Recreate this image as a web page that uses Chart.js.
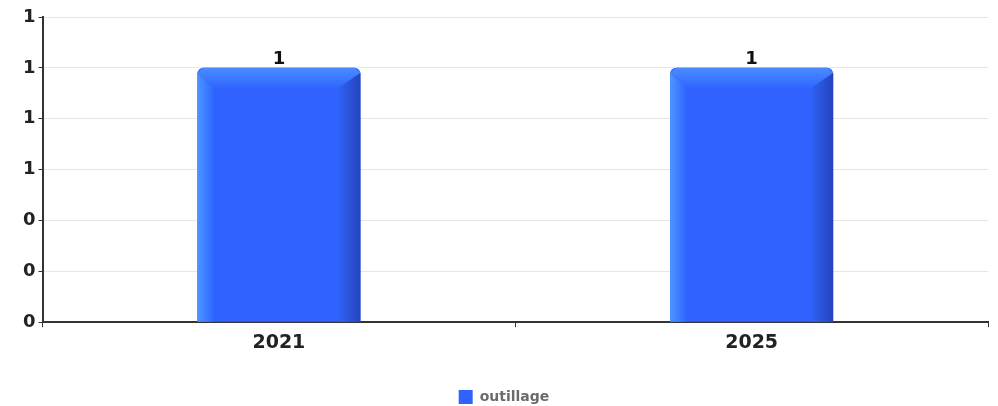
<!DOCTYPE html>
<html>
<head>
<meta charset="utf-8">
<script src="https://cdn.jsdelivr.net/npm/chart.js@4.4.1/dist/chart.umd.min.js"></script>
<style>
  html, body { margin: 0; padding: 0; background: #fff; }
  #wrap { width: 998px; height: 406px; }
</style>
</head>
<body>
<div id="wrap"><canvas id="barChart"></canvas></div>
<script>
// données
var categories = ['2021', '2025'];
var outillage = [1, 1];
var seriesLabel = 'outillage';
var yMax = 1.2;
var yStep = 0.2;

// relief des barres (bandes claires / sombres)
var bevelPlugin = {
    id: 'bevel',
    afterDatasetsDraw: function(chart) {
        var ctx = chart.ctx;
        chart.getDatasetMeta(0).data.forEach(function(bar) {
            var p = bar.getProps(['x', 'y', 'width', 'base'], true);
            var l = p.x - p.width / 2, r = p.x + p.width / 2;
            var t = p.y, b = p.base;
            var lw = 16, rw = 22, th = 20;
            ctx.save();
            // gauche
            var g = ctx.createLinearGradient(l, 0, l + lw, 0);
            g.addColorStop(0, '#4d95ff');
            g.addColorStop(1, '#3068ff');
            ctx.fillStyle = g;
            ctx.beginPath();
            ctx.moveTo(l, t + 5);
            ctx.lineTo(l + lw, t + th);
            ctx.lineTo(l + lw, b);
            ctx.lineTo(l, b);
            ctx.closePath();
            ctx.fill();
            // droite
            g = ctx.createLinearGradient(r - rw, 0, r, 0);
            g.addColorStop(0, '#2f62f5');
            g.addColorStop(1, '#2444bd');
            ctx.fillStyle = g;
            ctx.beginPath();
            ctx.moveTo(r, t + 5);
            ctx.lineTo(r - rw, t + th);
            ctx.lineTo(r - rw, b);
            ctx.lineTo(r, b);
            ctx.closePath();
            ctx.fill();
            // haut
            g = ctx.createLinearGradient(0, t, 0, t + th);
            g.addColorStop(0, '#4a8cff');
            g.addColorStop(1, '#3066ff');
            ctx.fillStyle = g;
            ctx.beginPath();
            ctx.moveTo(l + 6, t);
            ctx.lineTo(r - 6, t);
            ctx.lineTo(r, t + 5);
            ctx.lineTo(r - rw, t + th);
            ctx.lineTo(l + lw, t + th);
            ctx.lineTo(l, t + 5);
            ctx.closePath();
            ctx.fill();
            ctx.restore();
        });
    }
};

// valeurs au-dessus des barres
var valuePlugin = {
    id: 'values',
    afterDatasetsDraw: function(chart) {
        var ctx = chart.ctx;
        var ds = chart.data.datasets[0];
        chart.getDatasetMeta(0).data.forEach(function(bar, i) {
            ctx.save();
            ctx.font = 'bold 18px "DejaVu Sans"';
            ctx.fillStyle = '#111';
            ctx.textAlign = 'center';
            ctx.textBaseline = 'bottom';
            ctx.fillText(String(ds.data[i]), bar.x, bar.y);
            ctx.restore();
        });
    }
};

var ctx = document.getElementById('barChart').getContext('2d');
new Chart(ctx, {
    type: 'bar',
    data: {
        labels: categories,
        datasets: [{
            label: seriesLabel,
            data: outillage,
            backgroundColor: '#2f62ff',
            borderWidth: 0,
            borderRadius: { topLeft: 6, topRight: 6, bottomLeft: 0, bottomRight: 0 },
            borderSkipped: false,
            categoryPercentage: 1,
            barPercentage: 0.345
        }]
    },
    options: {
        responsive: true,
        maintainAspectRatio: false,
        animation: false,
        layout: { padding: { left: 20, right: 10, top: 17, bottom: -8 } },
        scales: {
            x: {
                offset: true,
                grid: { offset: true, drawOnChartArea: false, drawTicks: true, tickLength: 5, color: '#333' },
                border: { color: '#333', width: 2 },
                ticks: { color: '#222', font: { family: 'DejaVu Sans', size: 19, weight: 'bold' }, padding: 4 },
                afterFit: function(scale) { scale.height += 28; }
            },
            y: {
                min: 0,
                max: yMax,
                grid: { color: '#e6e6e6', tickLength: 4, tickColor: '#333' },
                border: { color: '#333', width: 2 },
                ticks: {
                    stepSize: yStep,
                    color: '#222',
                    font: { family: 'DejaVu Sans', size: 18, weight: 'bold' },
                    padding: 3,
                    callback: function(v) { return Math.round(v); }
                }
            }
        },
        plugins: {
            legend: {
                position: 'bottom',
                labels: {
                    boxWidth: 14,
                    boxHeight: 14,
                    padding: 4,
                    color: '#6b6b6b',
                    font: { family: 'DejaVu Sans', size: 14, weight: 'bold' }
                }
            },
            tooltip: { enabled: false }
        }
    },
    plugins: [bevelPlugin, valuePlugin]
});
</script>
</body>
</html>
